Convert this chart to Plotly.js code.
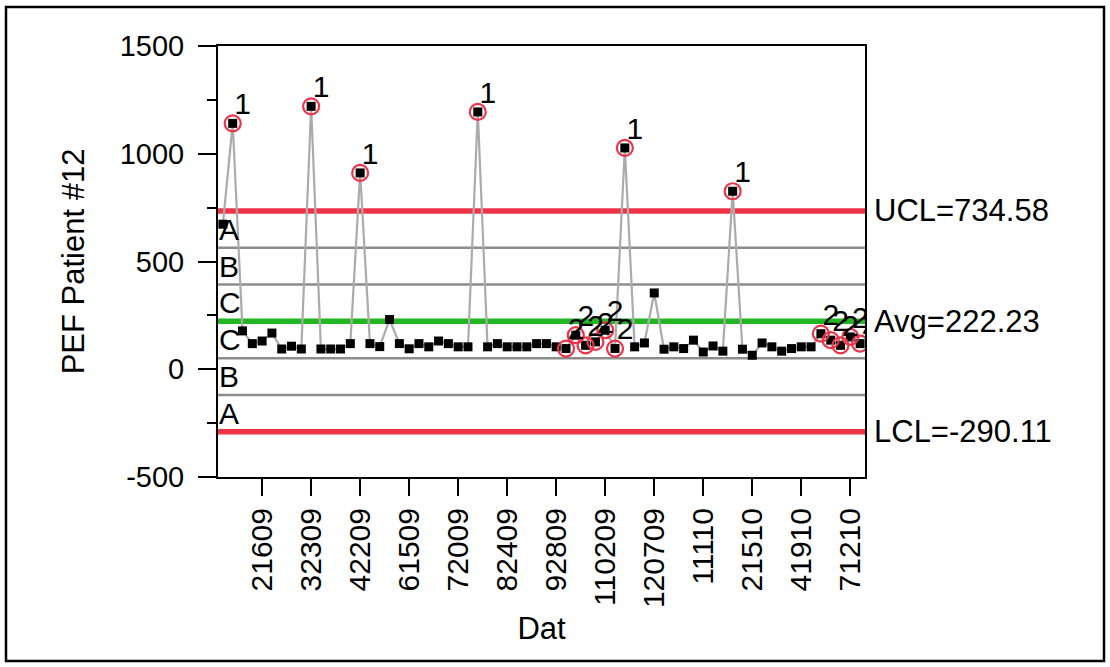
<!DOCTYPE html>
<html>
<head>
<meta charset="utf-8">
<script src="https://cdn.plot.ly/plotly-3.0.1.min.js"></script>
<style>
html,body{margin:0;padding:0;background:#fff;}
#chart{width:1110px;height:667px;}
</style>
</head>
<body>
<div id="chart"></div>
<script>
// ---- data ----
const pefValues = [673, 1141, 178, 119, 131, 168, 94, 107, 94, 1220,
  94, 94, 94, 119, 911, 119, 105, 231, 119, 95,
  119, 104, 131, 119, 104, 104, 1194, 104, 119, 104,
  104, 104, 119, 119, 104, 96, 158, 111, 127, 181,
  96, 1027, 104, 122, 354, 93, 104, 96, 135, 80,
  108, 84, 826, 93, 65, 122, 104, 84, 96, 104,
  104, 165, 135, 111, 150, 119];
const tickPositions = [4, 9, 14, 19, 24, 29, 34, 39, 44, 49, 54, 59, 64];
const tickLabels = ['21609', '32309', '42209', '61509', '72009', '82409', '92809',
  '110209', '120709', '11110', '21510', '41910', '71210'];
const yTickValues = [-500, 0, 500, 1000, 1500];
const yTickLabels = ['-500', '0', '500', '1000', '1500'];
const rule1Points = [1, 9, 14, 26, 41, 52];
const rule2Points = [35, 36, 37, 38, 39, 40, 61, 62, 63, 64, 65];
const UCL = 734.58;
const AVG = 222.23;
const LCL = -290.11;
const zoneLetters = ['A', 'B', 'C', 'C', 'B', 'A'];

// ---- derived ----
const xIdx = pefValues.map((v, i) => i);
const sigma = (UCL - AVG) / 3;
const zoneLines = [AVG + 2 * sigma, AVG + sigma, AVG - sigma, AVG - 2 * sigma];
const zoneBounds = [UCL, AVG + 2 * sigma, AVG + sigma, AVG, AVG - sigma, AVG - 2 * sigma, LCL];

const FONT = 'Liberation Sans, Arial, sans-serif';
const RED = '#EE3349';
const GREEN = '#22B622';
const GREY = '#8C8C8C';

const flagged = rule1Points.map(i => ({i, t: '1'})).concat(rule2Points.map(i => ({i, t: '2'})));

const traces = [
  {
    x: xIdx, y: pefValues, type: 'scatter', mode: 'lines+markers',
    line: {color: '#ABABAB', width: 2.2},
    marker: {symbol: 'square', size: 9, color: '#000'},
    hoverinfo: 'x+y', showlegend: false
  },
  {
    x: flagged.map(f => f.i), y: flagged.map(f => pefValues[f.i]),
    type: 'scatter', mode: 'markers',
    marker: {symbol: 'circle-open', size: 16, color: RED, line: {width: 2.2, color: RED}},
    showlegend: false
  },
  {
    x: flagged.map(f => f.i), y: flagged.map(f => pefValues[f.i]),
    text: flagged.map(f => f.t),
    type: 'scatter', mode: 'markers+text',
    marker: {size: 1, color: 'rgba(0,0,0,0)'},
    textposition: 'top right',
    textfont: {family: FONT, size: 30, color: '#000'},
    cliponaxis: true, showlegend: false
  }
];

const shapes = [];
zoneLines.forEach(v => shapes.push({type: 'line', xref: 'paper', x0: 0, x1: 1, yref: 'y', y0: v, y1: v,
  line: {color: GREY, width: 2.5}, layer: 'below'}));
[[UCL, RED], [AVG, GREEN], [LCL, RED]].forEach(([v, c]) => shapes.push({type: 'line', xref: 'paper', x0: 0, x1: 1,
  yref: 'y', y0: v, y1: v, line: {color: c, width: 5.5}, layer: 'below'}));
// outer frame of the picture
shapes.push({type: 'rect', xref: 'paper', yref: 'paper',
  x0: (6 - 218) / 647, x1: (1104 - 218) / 647, y0: (477 - 661) / 431, y1: (477 - 7) / 431,
  line: {color: '#000', width: 2.5}, fillcolor: 'rgba(0,0,0,0)'});

const annotations = [];
for (let k = 0; k < 6; k++) {
  annotations.push({xref: 'paper', x: 0, xanchor: 'left', xshift: -1, yref: 'y',
    y: (zoneBounds[k] + zoneBounds[k + 1]) / 2, yanchor: 'middle', text: zoneLetters[k], showarrow: false,
    font: {family: FONT, size: 30, color: '#000'}});
}
[['UCL=' + UCL.toFixed(2), UCL], ['Avg=' + AVG.toFixed(2), AVG], ['LCL=' + LCL.toFixed(2), LCL]].forEach(([t, v]) =>
  annotations.push({xref: 'paper', x: 1, xanchor: 'left', xshift: 7, yref: 'y', y: v, yanchor: 'middle',
    text: t, showarrow: false, font: {family: FONT, size: 31, color: '#000'}}));

const layout = {
  width: 1110, height: 667,
  margin: {l: 218, r: 245, t: 46, b: 190},
  paper_bgcolor: '#fff', plot_bgcolor: '#fff',
  showlegend: false,
  font: {family: FONT, size: 28, color: '#000'},
  xaxis: {
    range: [-0.5, 65.5], tickmode: 'array', tickvals: tickPositions, ticktext: tickLabels,
    tickangle: -90, ticks: 'outside', ticklen: 17, tickwidth: 2, tickcolor: '#000',
    tickfont: {family: FONT, size: 30}, showgrid: false, zeroline: false,
    showline: true, linecolor: '#000', linewidth: 2, mirror: true,
    title: {text: 'Dat', font: {family: FONT, size: 31}, standoff: 10}
  },
  yaxis: {
    range: [-500, 1500], tickmode: 'array', tickvals: yTickValues, ticktext: yTickLabels,
    ticks: 'outside', ticklen: 18, tickwidth: 2, tickcolor: '#000',
    minor: {tickvals: [-250, 250, 750, 1250], ticks: 'outside', ticklen: 9, tickwidth: 2, tickcolor: '#000'},
    tickfont: {family: FONT, size: 29}, showgrid: false, zeroline: false,
    showline: true, linecolor: '#000', linewidth: 2, mirror: true,
    ticklabelstandoff: 8,
    title: {text: 'PEF Patient #12', font: {family: FONT, size: 31}, standoff: 26}
  },
  shapes: shapes,
  annotations: annotations
};

Plotly.newPlot('chart', traces, layout, {displayModeBar: false, staticPlot: true});
</script>
</body>
</html>
